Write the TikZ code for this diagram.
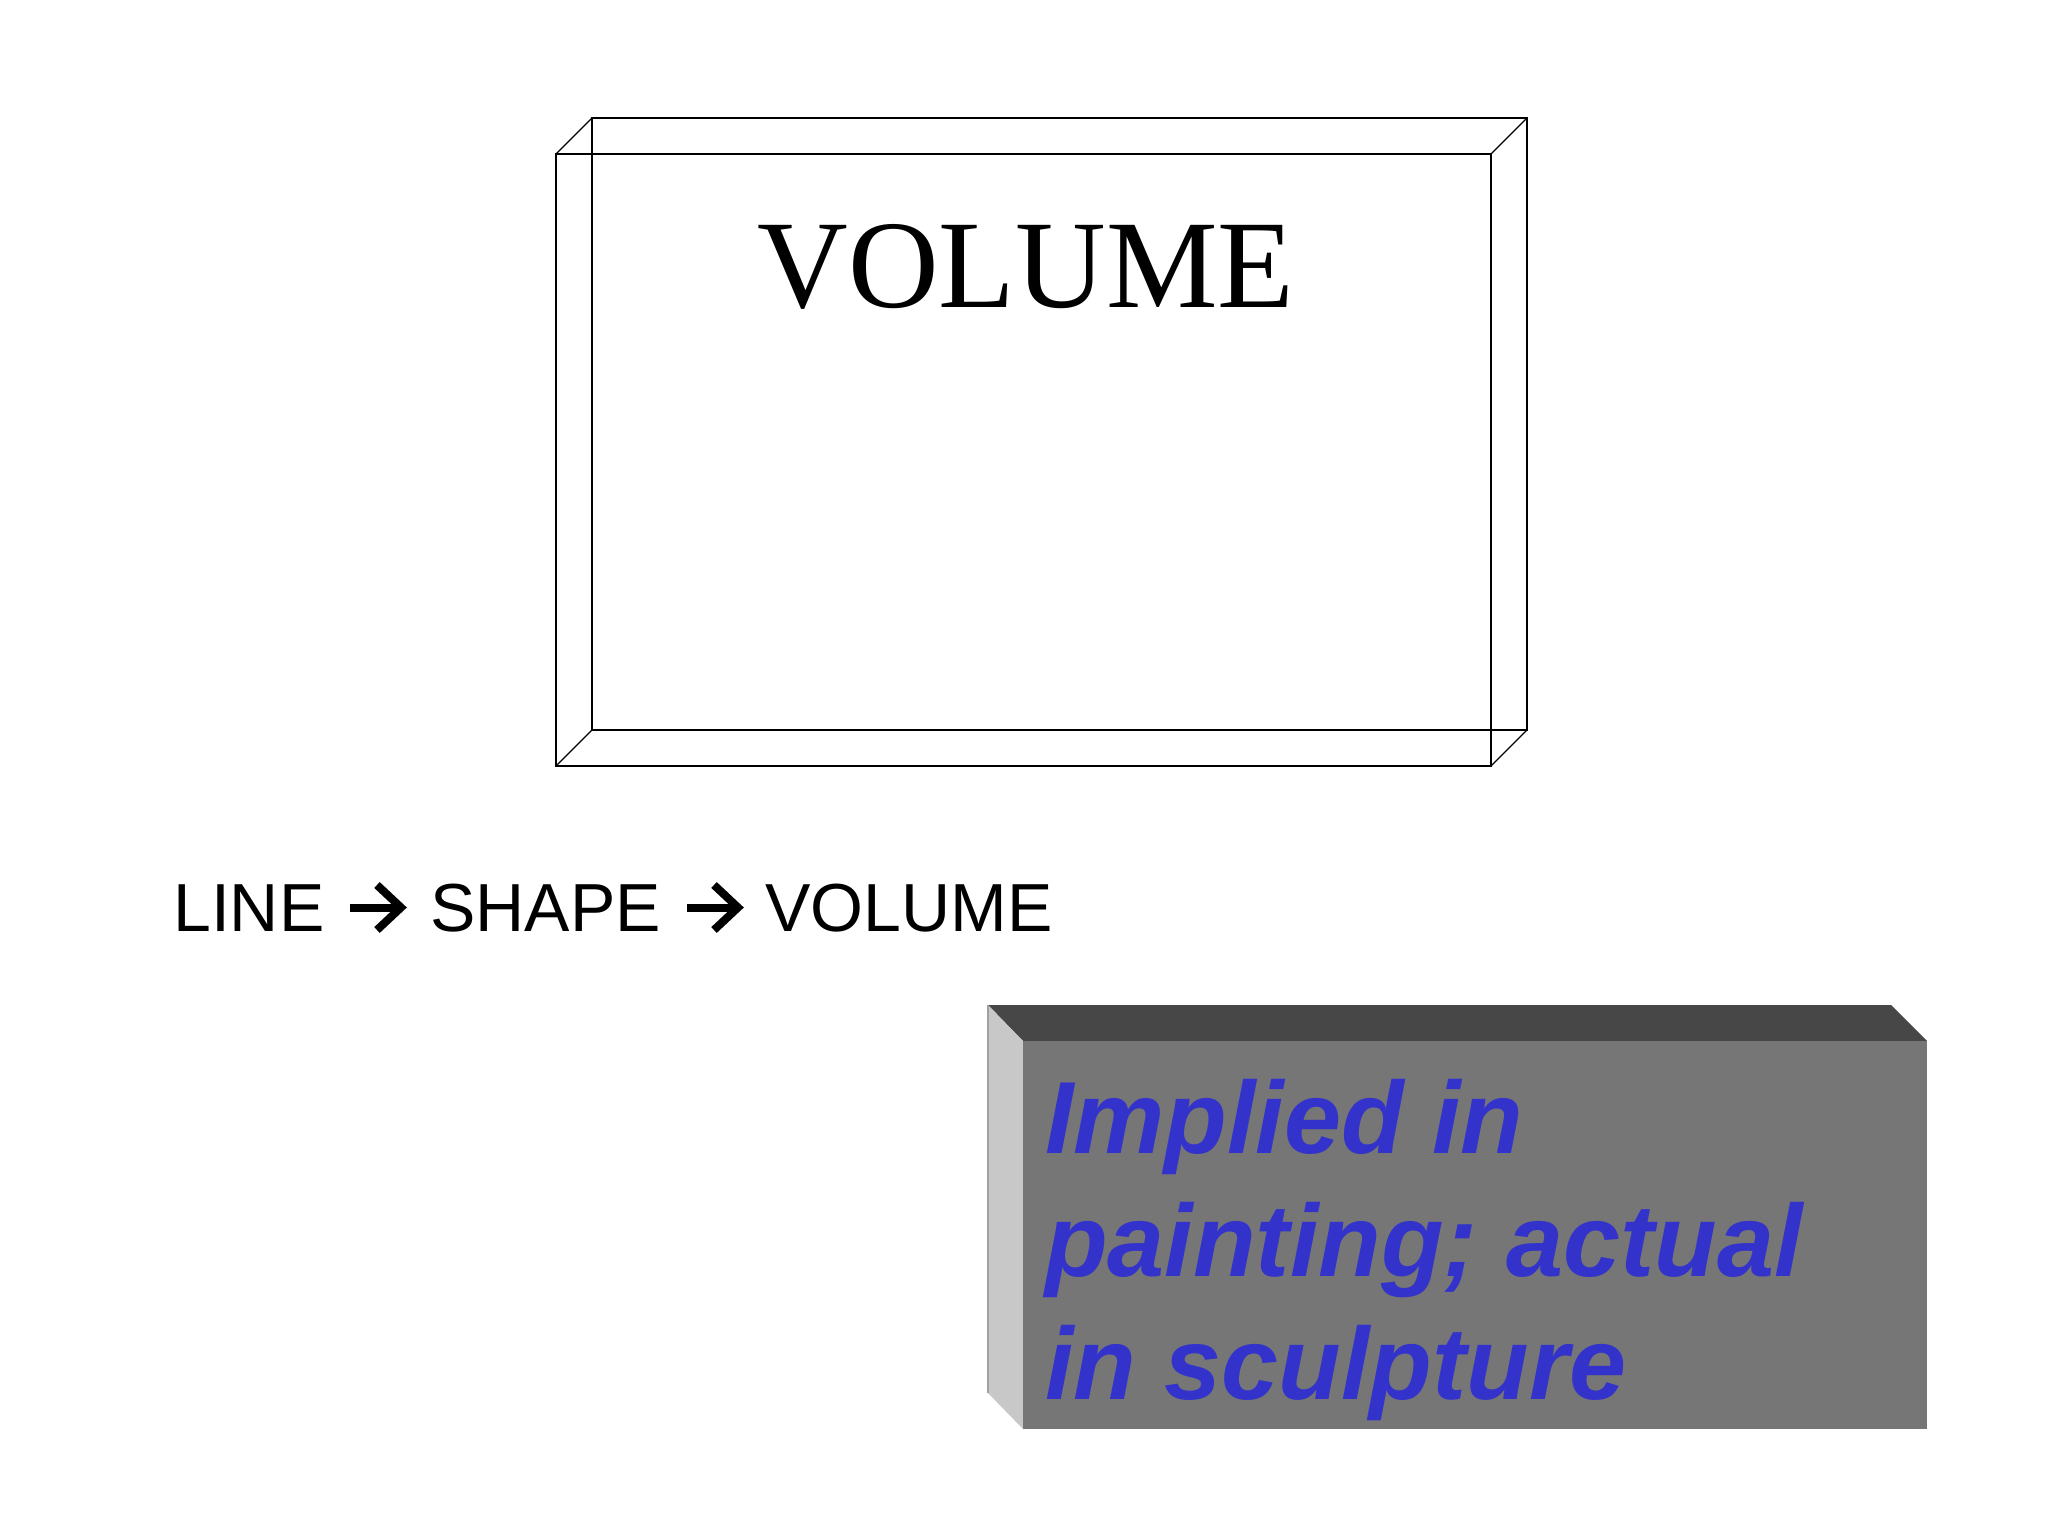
\documentclass[tikz,border=0pt]{standalone}
\usepackage{fontspec}
\setmainfont{Liberation Serif}
\newfontfamily\arialfont{Liberation Sans}
\definecolor{txtblue}{RGB}{51,51,204}
\definecolor{topgray}{RGB}{71,71,71}
\definecolor{frontgray}{RGB}{118,118,118}
\definecolor{sidegray}{RGB}{200,200,200}
\definecolor{edgegray}{RGB}{160,160,160}
\begin{document}
\begin{tikzpicture}[x=1pt,y=-1pt,
  frontline/.style={line width=1.9pt,black},
  backline/.style={line width=1.2pt,black},
  bluetxt/.style={anchor=base west,inner sep=0pt,text=txtblue,font=\arialfont\bfseries\itshape\fontsize{102.5}{120}\selectfont},
  flowtxt/.style={anchor=base west,inner sep=0pt,font=\arialfont\fontsize{68}{80}\selectfont},
  chevron/.style={line width=8pt,black,line join=miter}]
\useasboundingbox (0,0) rectangle (2048,1536);
% ---- transparent box ----
\coordinate (f1) at (556,154);
\coordinate (f2) at (1491,154);
\coordinate (f3) at (1491,766);
\coordinate (f4) at (556,766);
\coordinate (b1) at (592,118);
\coordinate (b2) at (1527,118);
\coordinate (b3) at (1527,730);
\coordinate (b4) at (592,730);
\draw[backline] (b1) -- (b2) -- (b3) -- (b4) -- cycle;
\draw[backline] (f1) -- (b1) (f2) -- (b2) (f3) -- (b3) (f4) -- (b4);
\draw[frontline] (f1) -- (f2) -- (f3) -- (f4) -- cycle;
\node[anchor=base,inner sep=0pt,font=\fontsize{125.5}{140}\selectfont] (title) at (1026,307) {VOLUME};
% ---- flow line ----
\node[flowtxt] (line) at (173,931.5) {LINE};
\node[flowtxt] (shape) at (430,931.5) {SHAPE};
\node[flowtxt] (vol) at (765,931.5) {VOLUME};
\coordinate (a1s) at (350,907.5);
\coordinate (a1e) at (400,907.5);
\coordinate (a1t) at (377,885);
\coordinate (a1p) at (401,907.5);
\coordinate (a1b) at (377,930);
\draw[chevron] (a1s) -- (a1e);
\draw[chevron] (a1t) -- (a1p) -- (a1b);
\coordinate (a2s) at (687,907.5);
\coordinate (a2e) at (737,907.5);
\coordinate (a2t) at (714,885);
\coordinate (a2p) at (738,907.5);
\coordinate (a2b) at (714,930);
\draw[chevron] (a2s) -- (a2e);
\draw[chevron] (a2t) -- (a2p) -- (a2b);
% ---- gray block ----
\coordinate (g1) at (988,1005);
\coordinate (g2) at (1891,1005);
\coordinate (g3) at (1927,1041);
\coordinate (g4) at (1023,1041);
\coordinate (g5) at (1927,1429);
\coordinate (g6) at (1023,1429);
\coordinate (g7) at (988,1393);
\fill[topgray] (g1) -- (g2) -- (g3) -- (g4) -- cycle;
\fill[sidegray] (g1) -- (g4) -- (g6) -- (g7) -- cycle;
\fill[frontgray] (g4) -- (g3) -- (g5) -- (g6) -- cycle;
\draw[edgegray,line width=2pt] (g1) -- (g7);
\node[bluetxt] (t1) at (1045,1153) {Implied in};
\node[bluetxt] (t2) at (1045,1276) {painting; actual};
\node[bluetxt] (t3) at (1045,1399) {in sculpture};
\end{tikzpicture}
\end{document}
